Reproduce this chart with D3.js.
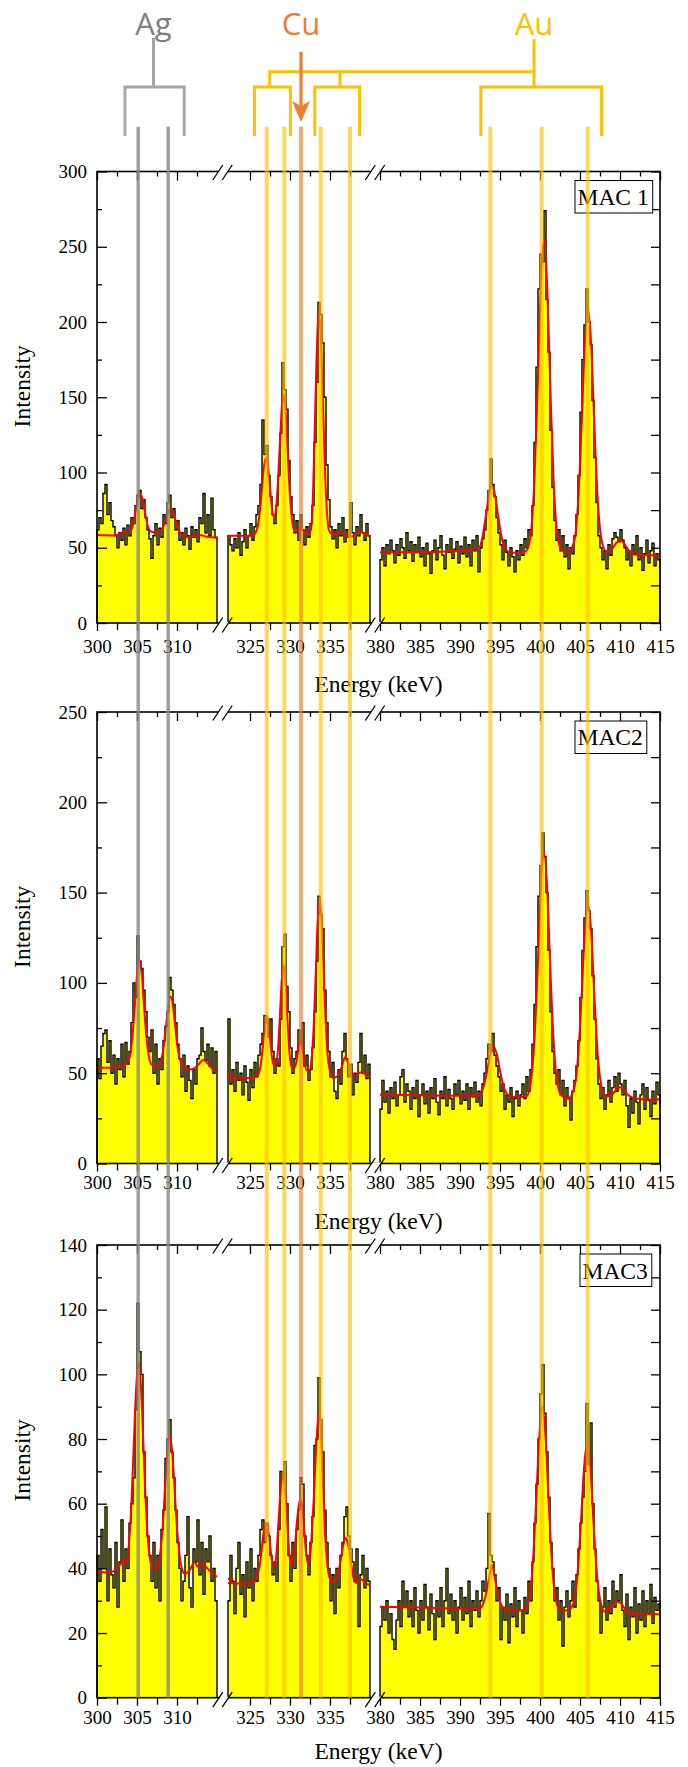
<!DOCTYPE html>
<html>
<head>
<meta charset="utf-8">
<script src="https://cdn.jsdelivr.net/npm/d3@7"></script>
<style>
  body { margin: 0; background: #fff; }
  svg { display: block; }
</style>
</head>
<body>
<div id="chart"></div>
<script>
// ---------------- data ----------------
// energy windows (keV) and channel width
const segments = [[300, 315], [322.25, 340], [380, 415]];
const CH = 0.25;

// tick labels
const xTickLabels = [[300, 305, 310], [325, 330, 335], [380, 385, 390, 395, 400, 405, 410, 415]];
const yTicks1 = [0, 50, 100, 150, 200, 250, 300];
const yTicks2 = [0, 50, 100, 150, 200, 250];
const yTicks3 = [0, 20, 40, 60, 80, 100, 120, 140];

// line energies (keV)
const agLines = [305.15, 308.9];
const cuLines = [331.375];
const auLines = [327.09, 329.29, 333.84, 337.5, 393.79, 400.21, 405.96];

// MAC 1 counts, one value per channel
const mac1Low = [62,70,66,86,92,72,80,68,64,58, 50,60,55,63,52,65,58,70,66,78,
  85,88,76,82,70,62,56,43,58,66, 52,63,57,72,66,80,85,70,76,62,
  68,55,60,52,63,58,49,64,57,62, 54,70,66,86,60,72,58,83,62,57];
const mac1Mid = [58,52,48,56,50,60,45,54,62,50, 58,66,55,64,72,78,92,135,112,118,
  98,84,72,66,78,98,126,173,155,142, 108,84,72,60,68,55,72,62,52,64,
  57,66,78,120,160,213,205,186,150,105, 82,64,56,62,50,66,58,70,54,62,
  57,80,60,52,64,58,72,60,55,66, 58];
const mac1High = [42,50,38,52,46,55,48,40,52,45, 56,50,43,60,48,54,41,52,47,57,
  44,50,38,53,46,33,48,55,42,50, 58,45,36,52,47,56,43,49,54,40,
  51,46,57,44,52,38,55,48,58,34, 50,56,62,75,88,109,92,84,70,60,
  52,42,55,47,38,50,44,34,48,42, 52,45,56,50,62,58,78,120,170,222,
  245,240,274,215,180,128,90,68,55,62, 48,58,44,52,36,50,46,58,72,98,
  140,175,198,222,200,185,148,110,80,58, 50,42,48,36,52,45,56,60,57,54,
  62,55,50,42,48,38,52,46,58,42, 50,35,46,55,40,48,53,38,46,42];

// MAC2 counts
const mac2Low = [58,47,65,72,74,56,68,50,60,44, 58,52,66,48,67,55,62,78,100,92,
  126,112,108,96,84,70,62,74,50,66, 44,58,52,68,76,84,103,96,88,78,
  66,58,48,60,40,54,46,36,52,44, 58,60,75,62,57,66,54,64,50,62];
const mac2Mid = [80,44,52,40,56,46,50,38,54,45, 35,52,42,56,48,60,66,72,82,78,
  70,80,62,50,58,54,80,120,127,98, 84,64,50,58,62,74,66,78,54,60,
  46,52,64,84,112,148,138,130,96,78, 62,48,56,40,36,52,44,62,72,58,
  48,55,38,50,45,56,72,50,60,47, 55];
const mac2High = [30,46,34,40,28,42,36,45,32,38, 48,52,34,44,40,30,42,36,46,26,
  38,44,33,40,28,42,36,47,34,27, 40,36,48,32,41,36,30,44,38,46,
  33,40,35,44,30,42,37,45,34,40, 32,44,50,58,66,62,72,60,54,48,
  40,44,30,38,34,42,26,36,40,32, 38,44,36,48,40,52,66,88,120,148,
  165,183,170,150,118,84,62,50,44,52, 38,46,32,42,36,24,40,46,54,68,
  92,118,136,151,140,130,104,80,58,44, 36,42,30,38,46,34,42,48,40,50,
  44,38,46,32,20,36,28,40,34,22, 38,44,30,42,35,26,40,33,45,38];

// MAC3 counts
const mac3Low = [44,36,52,40,59,30,46,38,34,48, 28,42,55,36,46,40,54,60,68,89,
  122,107,100,76,62,50,44,36,48,34, 44,30,52,58,74,80,86,76,68,58,
  48,40,30,36,44,56,34,28,46,42, 55,38,48,32,46,42,50,36,40,30];
const mac3Mid = [30,44,36,26,40,48,32,38,25,42, 34,46,30,40,36,44,52,55,48,54,
  50,44,38,42,36,52,70,68,73,60, 44,36,48,40,52,58,68,66,50,44,
  38,48,56,78,80,99,86,76,58,48, 40,30,38,26,40,34,44,48,56,59,
  50,46,42,36,46,22,38,44,34,40, 36];
const mac3High = [22,28,24,30,20,26,18,15,24,30, 22,36,28,33,25,30,22,34,27,20,
  30,24,35,28,21,32,26,18,30,25, 34,22,30,40,26,32,24,30,20,28,
  34,24,31,26,36,22,30,27,33,25, 30,36,33,40,57,44,42,38,30,34,
  18,28,24,32,17,29,25,34,22,30, 27,20,31,26,36,30,42,54,66,80,
  94,103,88,76,62,48,40,30,34,24, 30,16,28,33,25,30,36,28,38,46,
  54,62,70,91,72,85,60,46,36,30, 20,28,34,24,30,26,36,28,33,30,
  38,27,22,32,18,28,25,34,20,29, 24,33,22,30,26,35,23,31,27,29];

// fitted curves, read as [keV, intensity] points
const fit1Low = [[300,58.5],[301,58.3],[302,58.2],[302.8,59],[303.5,60.5],[303.9,60.3],[304.3,62],[304.5,65.5],
  [304.8,73.5],[305.1,82],[305.4,86],[305.7,82],[306.0,73.5],[306.3,65.5],[306.6,61.5],[306.9,60.5],[307.5,60],
  [307.9,61],[308.3,64],[308.6,68.5],[308.9,73.5],[309.2,75.5],[309.5,73.5],[309.8,68.5],[310.1,63.5],[310.4,60],
  [310.8,58],[311.5,57],[312.3,58],[313.0,58.3],[313.6,57.5],[314.3,57],[315,56.5]];
const fit1Mid = [[322.25,58],[324,58],[325.4,58.2],[325.7,60],[326.0,65],[326.25,75],[326.5,90],[326.75,104],
  [327.0,110],[327.25,104],[327.5,90],[327.75,76],[328.0,70],[328.25,76],[328.5,94],[328.75,121],[329.0,145],
  [329.2,152],[329.45,141],[329.7,115],[329.95,88],[330.2,71],[330.5,62],[330.8,61],[331.3,63.5],[331.8,60.5],
  [332.2,59.5],[332.55,61],[332.8,75],[333.05,120],[333.3,172],[333.6,206],[333.85,190],[334.1,150],[334.35,105],
  [334.6,75],[334.85,62],[335.2,59],[335.6,58.5],[336.3,60.5],[336.9,59],[337.6,57.5],[338.3,58.5],[338.8,61],
  [339.3,59.5],[340,57.5]];
const fit1High = [[380,47],[386,47],[392.3,49.2],[392.8,57],[393.2,70],[393.6,84.5],[394.0,91],[394.4,84.5],
  [394.8,70],[395.2,57],[395.7,49.2],[396.3,46.8],[397.5,46.5],[398.3,48],[398.8,57.4],[399.3,95],[399.7,155],
  [400.1,224],[400.5,255],[400.9,224],[401.3,155],[401.7,95],[402.2,57.4],[402.7,48.5],[403.5,47],[404.3,55],
  [404.8,84],[405.2,131],[405.6,185],[406.0,209],[406.4,185],[406.8,131],[407.2,84],[407.7,55],[408.3,47.5],
  [408.9,48.5],[409.5,53],[410.0,55],[410.5,53],[411.1,48],[411.7,45.5],[413,45],[415,45]];

const fit2Low = [[300,53],[301.5,53],[302.5,53.5],[303.5,54.5],[303.8,57],[304.1,59],[304.4,69],[304.7,86],
  [305.0,104.5],[305.3,113],[305.6,104.5],[305.9,86],[306.2,69],[306.5,59],[306.8,55],[307.3,54],[307.8,54.5],
  [308.0,57],[308.3,63.5],[308.6,75],[308.9,87],[309.2,92.5],[309.5,87],[309.8,75],[310.1,63.5],[310.4,57],
  [310.7,54],[311.2,52],[312.0,52.3],[312.7,55],[313.3,57.5],[313.9,55],[314.5,52],[315,51]];
const fit2Mid = [[322.25,47.5],[324,47.3],[325.3,47.5],[325.9,48.5],[326.1,50],[326.35,54.8],[326.6,64.7],
  [326.85,76.5],[327.1,82],[327.35,76.5],[327.6,64.7],[327.85,56],[328.15,54],[328.45,60.5],[328.7,78.5],
  [328.95,100],[329.2,110],[329.45,100],[329.7,78.5],[329.95,60.5],[330.2,53.5],[330.5,53],[330.8,56.5],
  [331.05,63.5],[331.3,69],[331.55,63.5],[331.8,56],[332.1,51.5],[332.4,51.5],[332.7,58],[332.95,75],[333.2,103],
  [333.45,133],[333.7,146],[333.95,135],[334.2,108],[334.45,79],[334.7,60],[335.0,51],[335.3,47.5],[335.8,48],
  [336.2,50],[336.5,54],[336.9,59],[337.3,55],[337.7,50],[338.2,49],[338.6,50],[339.0,50.6],[339.5,49],[340,48]];
const fit2High = [[380,38],[385,37.8],[390,37.5],[392.0,37.5],[392.5,38.4],[393.0,43.4],[393.4,51.4],[393.8,60.5],
  [394.2,64.7],[394.6,60.5],[395.0,51.4],[395.4,43.4],[395.9,38.4],[396.5,37],[397.5,36.8],[398.3,37.2],[398.8,43.7],
  [399.3,68],[399.7,107],[400.1,152],[400.5,172],[400.9,152],[401.3,107],[401.7,68],[402.2,43.7],[402.7,37.5],
  [403.5,36],[404.3,42.3],[404.8,61.6],[405.2,92.6],[405.6,128],[406.0,144],[406.4,128],[406.8,92.6],[407.2,61.6],
  [407.7,42.3],[408.2,37.2],[408.7,37.5],[409.2,39],[409.6,41.2],[410.0,42.2],[410.4,41.2],[410.8,39],[411.3,37],
  [412,36],[413.5,35.5],[415,35.5]];
const fit2Stub = [[322.25,49.2],[322.9,49.2]];

const fit3Low = [[300,39],[301,38.8],[302,39],[302.7,40.5],[303.3,42.4],[303.7,41.9],[304.0,47.8],[304.3,59.8],
  [304.6,78.7],[304.9,96],[305.2,104],[305.5,96],[305.8,78.7],[306.1,59.8],[306.4,47.8],[306.7,42],[307.1,40],
  [307.5,40.2],[307.9,44.7],[308.2,52.4],[308.5,64.6],[308.8,76],[309.1,81],[309.4,76],[309.7,64.6],[310.0,52.4],
  [310.3,44.5],[310.6,40],[311.0,38.3],[311.6,39.5],[312.2,42],[312.6,40.5],[313.1,41.5],[313.8,40],[314.4,38.5],
  [315,37.4]];
const fit3Mid = [[322.25,35.5],[324,35.3],[325.5,35.5],[325.9,38],[326.25,41.4],[326.5,46.8],[326.75,51.8],
  [327.0,54],[327.25,52],[327.5,47.5],[327.8,41.5],[328.1,40.5],[328.35,46],[328.6,56],[328.85,65],[329.1,69],
  [329.35,65],[329.6,56.5],[329.85,46.5],[330.1,41],[330.35,42],[330.6,46],[330.85,54],[331.05,58.5],[331.3,61.5],
  [331.55,58.5],[331.8,51],[332.05,44],[332.25,41.5],[332.5,43.5],[332.75,52],[333.0,63],[333.3,79],[333.6,88],
  [333.85,82],[334.1,68],[334.35,52.5],[334.6,43],[334.9,37.5],[335.3,35.8],[335.7,36.5],[336.0,38.5],[336.3,42],
  [336.6,46.5],[336.9,49.5],[337.15,48.5],[337.4,45.5],[337.7,40.5],[338.0,36.5],[338.3,35.5],[338.7,36.8],
  [339.1,36.3],[339.5,35.3],[340,35]];
const fit3High = [[380,28.1],[383,28],[386,27.8],[389,27.6],[392.3,27.4],[392.8,28.5],[393.2,31.5],[393.6,36.4],
  [394.0,41],[394.4,36.4],[394.8,31.5],[395.2,28.5],[395.8,27.3],[396.5,27.1],[397.5,27],[398.1,27.3],[398.6,30],
  [399.1,41.5],[399.5,59.8],[399.9,80.5],[400.3,90],[400.7,80.5],[401.1,59.8],[401.5,41.5],[402.0,30],[402.5,27.2],
  [403.5,27],[404.2,29.3],[404.7,38.7],[405.1,53.7],[405.5,71],[405.9,78.7],[406.3,71],[406.7,53.7],[407.1,38.7],
  [407.6,29.3],[408.1,26.6],[408.7,27.5],[409.3,29.2],[409.8,29.7],[410.3,28.6],[410.9,26.5],[411.6,26],[413,25.9],
  [415,25.8]];
const fit3Stub = [[322.25,36.7],[322.9,36.7]];

// ---------------- layout ----------------
const W = 688, H = 1767;
const segPx = [[97, 217], [228, 370], [380, 660]];
const plotLeft = 97, plotRight = 660;
const serif = "'Liberation Serif', 'Times New Roman', serif";
const sans = "'Open Sans', 'Noto Sans', sans-serif";

const panels = [
  { label: "MAC 1", top: 171.5, bottom: 623, ymax: 300, yTicks: yTicks1,
    spectra: [mac1Low, mac1Mid, mac1High], fits: [fit1Low, fit1Mid, fit1High],
    tickPad: 8.5, titleDy: 69, boxX: 577.5, boxDy: 33.5 },
  { label: "MAC2", top: 712, bottom: 1163.5, ymax: 250, yTicks: yTicks2,
    spectra: [mac2Low, mac2Mid, mac2High], fits: [fit2Low, fit2Mid, fit2High, fit2Stub],
    tickPad: 4.5, titleDy: 65, boxX: 577.5, boxDy: 33 },
  { label: "MAC3", top: 1245, bottom: 1697.7, ymax: 140, yTicks: yTicks3,
    spectra: [mac3Low, mac3Mid, mac3High], fits: [fit3Low, fit3Mid, fit3High, fit3Stub],
    tickPad: 4.5, titleDy: 61.5, boxX: 582.5, boxDy: 34 }
];

const svg = d3.select("#chart").append("svg").attr("width", W).attr("height", H);

// one linear scale per energy window
const xScales = segments.map((s, i) => d3.scaleLinear().domain(s).range(segPx[i]));
const X = e => xScales[e < 318 ? 0 : e < 360 ? 1 : 2](e);

function breakMark(g, cx, cy) {
  // white cut + two slashes
  g.append("path")
    .attr("d", `M${cx - 6.7},${cy + 3} L${cx - 2.7},${cy - 3} L${cx + 6.7},${cy - 3} L${cx + 2.7},${cy + 3} Z`)
    .attr("fill", "#fff");
  [-4.7, 4.7].forEach(o => {
    g.append("line")
      .attr("x1", cx + o - 5).attr("y1", cy + 7.5)
      .attr("x2", cx + o + 5).attr("y2", cy - 7.5)
      .attr("stroke", "#000").attr("stroke-width", 1.3);
  });
}

panels.forEach(p => {
  const y = d3.scaleLinear().domain([0, p.ymax]).range([p.bottom, p.top]);
  const g = svg.append("g");

  // spectra: yellow fill + black histogram outline
  segments.forEach((s, si) => {
    const x = xScales[si];
    const vals = p.spectra[si];
    const pts = vals.map((v, i) => [s[0] + i * CH, v]);
    pts.push([s[1], vals[vals.length - 1]]);

    g.append("path").datum(pts)
      .attr("d", d3.area().curve(d3.curveStepAfter)
        .x(d => x(d[0])).y0(p.bottom).y1(d => y(d[1])))
      .attr("fill", "#ffff00");

    g.append("path").datum([[s[0], 0], ...pts, [s[1], 0]])
      .attr("d", d3.line().curve(d3.curveStepAfter)
        .x(d => x(d[0])).y(d => y(d[1])))
      .attr("fill", "none").attr("stroke", "#000").attr("stroke-width", 1.4);
  });

  // fits
  const fitLine = d3.line().curve(d3.curveMonotoneX).x(d => X(d[0])).y(d => y(d[1]));
  p.fits.forEach(f => {
    g.append("path").datum(f).attr("d", fitLine)
      .attr("fill", "none").attr("stroke", "#ff0000").attr("stroke-width", 2);
  });

  // frame
  g.append("rect")
    .attr("x", plotLeft).attr("y", p.top)
    .attr("width", plotRight - plotLeft).attr("height", p.bottom - p.top)
    .attr("fill", "none").attr("stroke", "#000").attr("stroke-width", 1.6);

  // x axes (bottom labelled, top inward ticks)
  segments.forEach((s, si) => {
    const x = xScales[si];
    const major = xTickLabels[si];
    const minor = major.map(v => v + 2.5).filter(v => v < s[1] - 1);

    g.append("g").attr("transform", `translate(0,${p.bottom})`)
      .call(d3.axisBottom(x).tickValues(major).tickSize(8).tickPadding(p.tickPad).tickFormat(d3.format("d")))
      .call(a => a.select(".domain").remove())
      .attr("font-family", serif).attr("font-size", 19)
      .call(a => a.selectAll("text").attr("fill", "#000"))
      .call(a => a.selectAll("line").attr("stroke-width", 1.3));
    g.append("g").attr("transform", `translate(0,${p.bottom})`)
      .call(d3.axisBottom(x).tickValues(minor).tickSize(7).tickFormat(""))
      .call(a => a.select(".domain").remove())
      .call(a => a.selectAll("line").attr("stroke-width", 1.3));

    g.append("g").attr("transform", `translate(0,${p.top})`)
      .call(d3.axisBottom(x).tickValues(major).tickSize(9).tickFormat(""))
      .call(a => a.select(".domain").remove())
      .call(a => a.selectAll("line").attr("stroke-width", 1.3));
    g.append("g").attr("transform", `translate(0,${p.top})`)
      .call(d3.axisBottom(x).tickValues(minor).tickSize(5).tickFormat(""))
      .call(a => a.select(".domain").remove())
      .call(a => a.selectAll("line").attr("stroke-width", 1.3));
  });

  // y axes
  const yMinor = p.yTicks.slice(1).map((v, i) => (v + p.yTicks[i]) / 2);
  g.append("g").attr("transform", `translate(${plotLeft},0)`)
    .call(d3.axisLeft(y).tickValues(p.yTicks).tickSize(0).tickPadding(10))
    .call(a => a.select(".domain").remove())
    .attr("font-family", serif).attr("font-size", 19)
    .call(a => a.selectAll("text").attr("fill", "#000"));
  g.append("g").attr("transform", `translate(${plotLeft},0)`)
    .call(d3.axisRight(y).tickValues(p.yTicks).tickSize(10).tickFormat(""))
    .call(a => a.select(".domain").remove())
    .call(a => a.selectAll("line").attr("stroke-width", 1.3));
  g.append("g").attr("transform", `translate(${plotLeft},0)`)
    .call(d3.axisRight(y).tickValues(yMinor).tickSize(5).tickFormat(""))
    .call(a => a.select(".domain").remove())
    .call(a => a.selectAll("line").attr("stroke-width", 1.3));
  g.append("g").attr("transform", `translate(${plotRight},0)`)
    .call(d3.axisLeft(y).tickValues([...p.yTicks, ...yMinor]).tickSize(9).tickFormat(""))
    .call(a => a.select(".domain").remove())
    .call(a => a.selectAll("line").attr("stroke-width", 1.3));

  // axis breaks
  const gaps = [(segPx[0][1] + segPx[1][0]) / 2, (segPx[1][1] + segPx[2][0]) / 2];
  gaps.forEach(cx => {
    breakMark(g, cx, p.top + 1);
    breakMark(g, cx, p.bottom + 2);
  });

  // axis titles
  g.append("text")
    .attr("transform", `translate(30,${(p.top + p.bottom) / 2 - 11}) rotate(-90)`)
    .attr("text-anchor", "middle")
    .attr("font-family", serif).attr("font-size", 23.5)
    .text("Intensity");
  g.append("text")
    .attr("x", (plotLeft + plotRight) / 2).attr("y", p.bottom + p.titleDy)
    .attr("text-anchor", "middle")
    .attr("font-family", serif).attr("font-size", 23.5)
    .text("Energy (keV)");

  // sample label box
  const t = g.append("text")
    .attr("x", p.boxX).attr("y", p.top + p.boxDy)
    .attr("font-family", serif).attr("font-size", 23.5)
    .text(p.label);
  const bb = t.node().getBBox();
  g.insert("rect", () => t.node())
    .attr("x", bb.x - 2.5).attr("y", p.top + 9)
    .attr("width", bb.width + 6.5).attr("height", 32.5)
    .attr("fill", "#fff").attr("stroke", "#000").attr("stroke-width", 1);
});

// ---------------- line markers ----------------
const markerTop = 126.7, markerBottom = panels[2].bottom;
const markers = svg.append("g");
[[agLines, "#888888", 0.8, 3.5], [auLines, "#ffc000", 0.65, 4], [cuLines, "#ed7d31", 0.65, 4]]
  .forEach(([lines, color, op, w]) => {
    markers.selectAll(null).data(lines).enter().append("line")
      .attr("x1", d => X(d)).attr("x2", d => X(d))
      .attr("y1", markerTop).attr("y2", markerBottom)
      .attr("stroke", color).attr("stroke-opacity", op).attr("stroke-width", w);
  });

// ---------------- element annotations ----------------
const ann = svg.append("g").attr("fill", "none").attr("stroke-width", 3);
const brackets = [
  { color: "#a6a6a6", from: 303.5, to: 310.9 },
  { color: "#ffc000", from: 325.55, to: 330.05 },
  { color: "#ffc000", from: 333.1, to: 338.7 },
  { color: "#ffc000", from: 392.6, to: 407.7 }
];
brackets.forEach(b => {
  ann.append("path")
    .attr("d", `M${X(b.from)},136 V87 H${X(b.to)} V136`)
    .attr("stroke", b.color);
});
const agStem = 307.06, auStem = 399.25, auBarLeft = 327.46, auBarDrop = 336.25;
ann.append("path").attr("d", `M${X(agStem)},38 V87`).attr("stroke", "#a6a6a6");
ann.append("path").attr("d", `M${X(auStem)},39 V87`).attr("stroke", "#ffc000");
ann.append("path")
  .attr("d", `M${X(auBarLeft)},87 V71.7 H${X(auStem)} M${X(auBarDrop)},71.7 V87`)
  .attr("stroke", "#ffc000");

// Cu arrow
const cx = X(cuLines[0]);
ann.append("path").attr("d", `M${cx},51.7 V106`).attr("stroke", "#ed7d31").attr("stroke-width", 3.2);
ann.append("path")
  .attr("d", `M${cx},122 L${cx - 9},101 L${cx},106 L${cx + 9},101 Z`)
  .attr("fill", "#ed7d31").attr("stroke", "none");

// element names
[["Ag", X(agStem), "#7f7f7f"], ["Cu", cx, "#ed7d31"], ["Au", X(auStem), "#ffc000"]]
  .forEach(([name, x, color]) => {
    svg.append("text")
      .attr("x", x).attr("y", 35)
      .attr("text-anchor", "middle")
      .attr("font-family", sans).attr("font-size", 31)
      .attr("fill", color)
      .text(name);
  });
</script>
</body>
</html>
